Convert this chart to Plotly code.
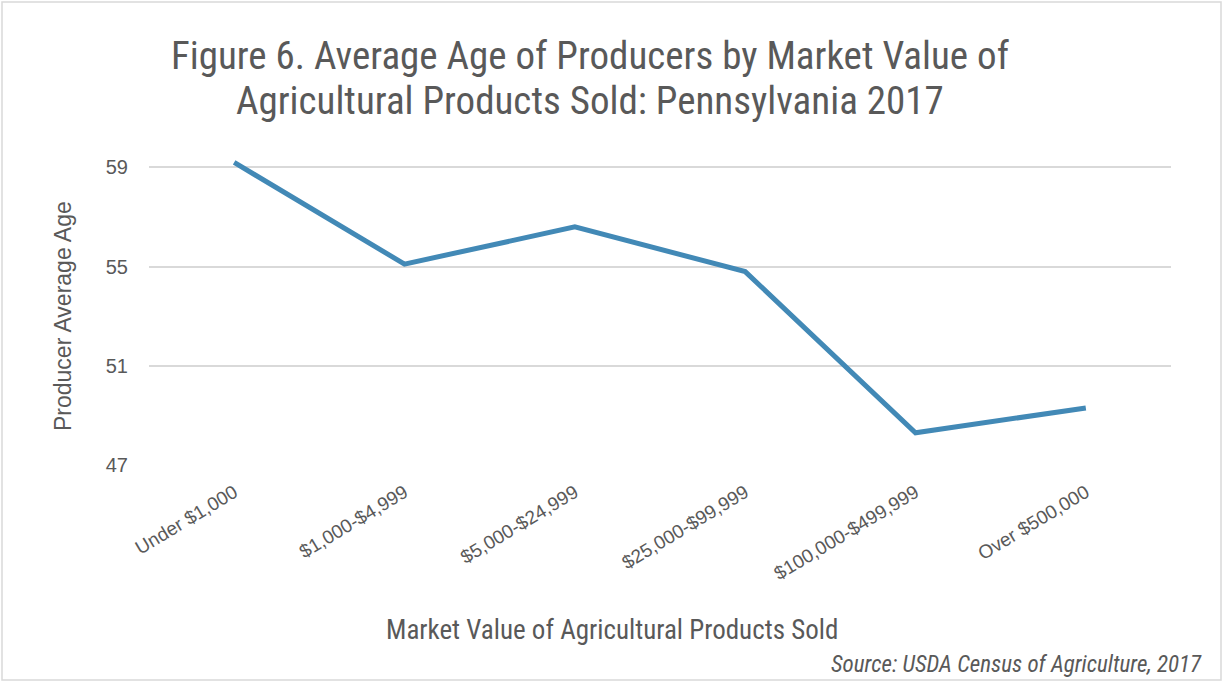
import plotly.graph_objects as go

categories = ["Under $1,000", "$1,000-$4,999", "$5,000-$24,999", "$25,000-$99,999",
              "$100,000-$499,999", "Over $500,000"]
avg_age = [59.2, 55.1, 56.6, 54.8, 48.3, 49.3]
y_ticks = [47, 51, 55, 59]

W, H = 1225, 683
ML, MR, MT, MB = 149, 54, 155, 218
PW, PH = W - ML - MR, H - MT - MB

def px(x):
    return (x - ML) / PW

def py(y):
    return 1 - (y - MT) / PH

narrow = "Liberation Sans Narrow, Roboto Condensed, Arial Narrow, sans-serif"
arial = "Liberation Sans, Arial, sans-serif"
grey = "#595959"

fig = go.Figure()
fig.add_trace(go.Scatter(
    x=categories, y=avg_age, mode="lines",
    line=dict(color="#4289b6", width=5),
    hoverinfo="x+y",
))

fig.update_layout(
    width=W, height=H,
    margin=dict(l=ML, r=MR, t=MT, b=MB),
    paper_bgcolor="white", plot_bgcolor="white",
    showlegend=False,
    xaxis=dict(
        type="category", tickangle=-31, showgrid=False, showline=False,
        ticks="", tickfont=dict(family=arial, size=19, color=grey),
        range=[-0.5, 5.5], ticklabelstandoff=12,
    ),
    yaxis=dict(
        range=[47, 59.5], tickvals=y_ticks, showgrid=True, gridcolor="#d9d9d9", gridwidth=1.5,
        zeroline=False, showline=False, ticks="",
        tickfont=dict(family=arial, size=20, color=grey),
        ticklabelstandoff=20,
    ),
    shapes=[dict(type="rect", xref="paper", yref="paper",
                 x0=px(2), x1=px(1221), y0=py(680), y1=py(2),
                 line=dict(color="#d9d9d9", width=1.5), fillcolor="rgba(0,0,0,0)", layer="below")],
    annotations=[
        dict(text="Figure 6. Average Age of Producers by Market Value of",
             xref="paper", yref="paper", x=px(590), y=py(56), xanchor="center", yanchor="middle",
             showarrow=False, font=dict(family=narrow, size=39, color=grey)),
        dict(text="Agricultural Products Sold: Pennsylvania 2017",
             xref="paper", yref="paper", x=px(590), y=py(101), xanchor="center", yanchor="middle",
             showarrow=False, font=dict(family=narrow, size=39, color=grey)),
        dict(text="Producer Average Age", xref="paper", yref="paper",
             x=px(63), y=py(316), xanchor="center", yanchor="middle", textangle=-90,
             showarrow=False, font=dict(family=arial, size=23, color=grey)),
        dict(text="Market Value of Agricultural Products Sold", xref="paper", yref="paper",
             x=px(612), y=py(630), xanchor="center", yanchor="middle",
             showarrow=False, font=dict(family=narrow, size=27, color=grey)),
        dict(text="<i>Source: USDA Census of Agriculture, 2017</i>", xref="paper", yref="paper",
             x=px(1204), y=py(664), xanchor="right", yanchor="middle",
             showarrow=False, font=dict(family=narrow, size=23, color=grey)),
    ],
)

fig.write_html("out.html", config={"displayModeBar": False},
               post_script="document.body.style.margin='0';")
